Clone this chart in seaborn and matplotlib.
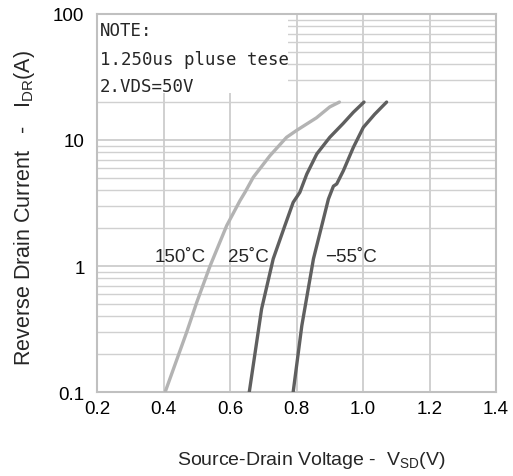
import numpy as np
import pandas as pd
import matplotlib
matplotlib.use("Agg")
import matplotlib.pyplot as plt
import seaborn as sns
from matplotlib.ticker import FixedLocator, FixedFormatter, LogLocator, NullFormatter
from matplotlib.patches import Rectangle

# ---- data ----
v_150 = [0.405, 0.47, 0.50, 0.54, 0.59, 0.63, 0.645, 0.67, 0.72, 0.77, 0.80, 0.86, 0.90, 0.929]
i_150 = [0.1, 0.30, 0.515, 1.0, 2.09, 3.3, 3.84, 5.06, 7.5, 10.5, 11.9, 15.0, 18.3, 20.0]

v_25 = [0.658, 0.695, 0.73, 0.765, 0.79, 0.81, 0.831, 0.861, 0.90, 0.94, 0.971, 1.003]
i_25 = [0.1, 0.456, 1.14, 2.09, 3.2, 3.84, 5.37, 7.75, 10.5, 13.5, 16.6, 20.0]

v_m55 = [0.79, 0.816, 0.851, 0.881, 0.896, 0.911, 0.921, 0.941, 0.971, 1.001, 1.035, 1.071]
i_m55 = [0.1, 0.336, 1.14, 2.36, 3.4, 4.3, 4.48, 5.71, 8.74, 12.6, 16.0, 20.0]

series_labels = ["150˚C", "25˚C", "−55˚C"]
label_x = [0.372, 0.593, 0.886]
label_y = [1.2, 1.2, 1.2]

x_ticks = [0.2, 0.4, 0.6, 0.8, 1.0, 1.2, 1.4]
x_tick_labels = ["0.2", "0.4", "0.6", "0.8", "1.0", "1.2", "1.4"]
y_ticks = [0.1, 1, 10, 100]
y_tick_labels = ["0.1", "1", "10", "100"]

note_lines = ["NOTE:", "1.250us pluse tese", "2.VDS=50V"]
note_y = [0.958, 0.881, 0.810]

df = pd.concat([
    pd.DataFrame({"V": v_150, "I": i_150, "T": series_labels[0]}),
    pd.DataFrame({"V": v_25, "I": i_25, "T": series_labels[1]}),
    pd.DataFrame({"V": v_m55, "I": i_m55, "T": series_labels[2]}),
], ignore_index=True)

sns.set_style("white")
plt.rcParams["font.family"] = ["Liberation Sans", "DejaVu Sans"]

fig = plt.figure(figsize=(5.13, 4.77), dpi=100)
ax = fig.add_axes([97 / 513, 1 - 393 / 477, (496 - 97) / 513, (393 - 15) / 477])

palette = {series_labels[0]: "#b3b3b3", series_labels[1]: "#5f5f5f", series_labels[2]: "#5f5f5f"}
sns.lineplot(data=df, x="V", y="I", hue="T", palette=palette, sort=False,
             estimator=None, linewidth=2.4, legend=False, ax=ax, zorder=3)

ax.set_yscale("log")
ax.set_xlim(0.2, 1.4)
ax.set_ylim(0.1, 100)

ax.xaxis.set_major_locator(FixedLocator(x_ticks))
ax.xaxis.set_major_formatter(FixedFormatter(x_tick_labels))
ax.yaxis.set_major_locator(FixedLocator(y_ticks))
ax.yaxis.set_major_formatter(FixedFormatter(y_tick_labels))
ax.yaxis.set_minor_locator(LogLocator(base=10, subs=np.arange(2, 10)))
ax.yaxis.set_minor_formatter(NullFormatter())

ax.grid(True, which="major", axis="both", color="#c8c8c8", linewidth=1.2)
ax.grid(True, which="minor", axis="y", color="#d0d0d0", linewidth=1.0)
ax.tick_params(axis="both", which="both", length=0, labelsize=13.5, colors="black")
ax.tick_params(axis="y", pad=9)
ax.tick_params(axis="x", pad=6)
for s in ax.spines.values():
    s.set_color("#c0c0c0")
    s.set_linewidth(1.5)

# note box
ax.add_patch(Rectangle((0, 0.79), (288 - 97) / 399, 0.21, transform=ax.transAxes,
                       facecolor="white", edgecolor="none", zorder=2.5))
for line, ny in zip(note_lines, note_y):
    ax.text(0.008, ny, line, transform=ax.transAxes, fontsize=12.5,
            family=["DejaVu Sans Mono"], va="center", ha="left", zorder=4)

for lbl, lx, ly in zip(series_labels, label_x, label_y):
    ax.text(lx, ly, lbl, fontsize=13.5, va="center", ha="left", zorder=4)

ax.set_xlabel(r"Source-Drain Voltage -  $\mathregular{V_{SD}}$(V)", fontsize=14)
ax.xaxis.set_label_coords(0.536, -0.152)
ax.set_ylabel(r"Reverse Drain Current   -   $\mathregular{I_{DR}}$(A)", fontsize=15.5)
ax.yaxis.set_label_coords(-0.15, 0.489)

fig.savefig("out.png", dpi=100)
